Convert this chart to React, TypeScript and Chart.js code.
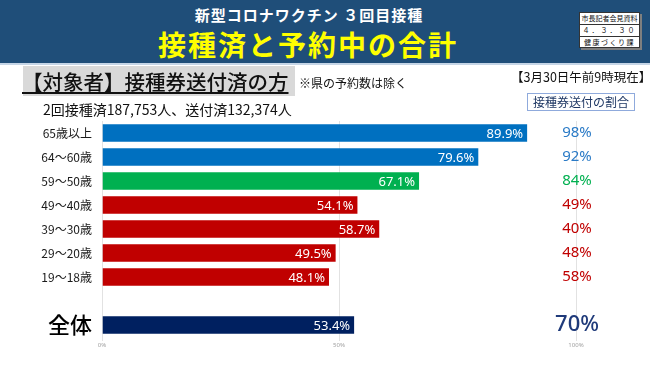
import React, { useEffect, useRef } from "react";
import { Chart, registerables } from "chart.js";

Chart.register(...registerables);

// ---- data ----
const categories = ["65歳以上", "64～60歳", "59～50歳", "49～40歳", "39～30歳", "29～20歳", "19～18歳", "", "全体"];
const bookedOrDone = [89.9, 79.6, 67.1, 54.1, 58.7, 49.5, 48.1, null, 53.4];
const ticketShare = [98, 92, 84, 49, 40, 48, 58, null, 70];
const xTickValues = [0, 50, 100];

// ---- styles ----
const barColors = ["#0070c0", "#0070c0", "#00b050", "#c00000", "#c00000", "#c00000", "#c00000", "#000000", "#002060"];
const shareColors = ["#2a7ac6", "#2a7ac6", "#00b050", "#c00000", "#c00000", "#c00000", "#c00000", "#000000", "#1f3a7a"];

const JP = '"Noto Sans CJK JP", "Noto Sans", sans-serif';
const NUM = '"Noto Sans", "Noto Sans CJK JP", sans-serif';

const labelPlugin = {
  id: "labels",
  afterDatasetsDraw(chart: any) {
    const ctx = chart.ctx;
    const meta = chart.getDatasetMeta(0);
    const xs = chart.scales.x;
    ctx.save();
    meta.data.forEach((bar: any, i: number) => {
      const v = bookedOrDone[i];
      if (v == null) return;
      ctx.font = `13px ${NUM}`;
      ctx.fillStyle = "#ffffff";
      ctx.textAlign = "right";
      ctx.textBaseline = "middle";
      ctx.fillText(`${v.toFixed(1)}%`, bar.x - 5, bar.y + 1);
      const s = ticketShare[i];
      if (s != null) {
        const big = categories[i] === "全体";
        ctx.font = big ? `500 22px ${NUM}` : `15px ${NUM}`;
        ctx.fillStyle = shareColors[i];
        ctx.textAlign = "center";
        ctx.fillText(`${s}%`, xs.getPixelForValue(100) + 1, bar.y);
      }
    });
    ctx.restore();
  },
};

export default function App() {
  const ref = useRef<HTMLCanvasElement | null>(null);
  useEffect(() => {
    if (!ref.current) return;
    const chart = new Chart(ref.current, {
      type: "bar",
      data: {
        labels: categories,
        datasets: [
          {
            data: bookedOrDone as any,
            backgroundColor: barColors,
            borderColor: "rgba(255,255,255,0.35)",
            borderWidth: 1,
            barPercentage: 0.82,
            categoryPercentage: 1,
          },
        ],
      },
      options: {
        indexAxis: "y",
        animation: false,
        responsive: false,
        devicePixelRatio: 1,
        layout: { padding: { top: 121, right: 74, bottom: 0, left: 0 } },
        plugins: { legend: { display: false }, tooltip: { enabled: false } },
        scales: {
          x: {
            min: 0,
            max: 100,
            afterBuildTicks: (scale: any) => {
              scale.ticks = xTickValues.map((v) => ({ value: v }));
            },
            afterFit: (scale: any) => {
              scale.height = 28;
            },
            border: { display: false },
            grid: { color: "#e2e2e2", tickLength: 4, drawTicks: true },
            ticks: {
              padding: 1,
              font: { size: 6, family: NUM },
              color: "#a0a0a0",
              maxRotation: 0,
              callback: (v: any) => `${v}%`,
            },
          },
          y: {
            afterFit: (scale: any) => {
              scale.width = 102;
            },
            border: { display: false },
            grid: { display: false, drawTicks: false },
            ticks: {
              autoSkip: false,
              padding: 10,
              color: (c: any) => (c.index === 8 ? "#000000" : "#1a1a1a"),
              font: (c: any) =>
                c.index === 8
                  ? { size: 22, weight: "500", family: JP }
                  : { size: 12, family: JP },
            },
          },
        },
      },
      plugins: [labelPlugin],
    });
    return () => chart.destroy();
  }, []);

  const abs = (s: React.CSSProperties): React.CSSProperties => ({ position: "absolute", whiteSpace: "nowrap", ...s });

  return (
    <div style={{ position: "fixed", left: 0, top: 0, width: 650, height: 365, background: "#ffffff", overflow: "hidden", fontFamily: JP }}>
      <div style={abs({ left: 0, top: 0, width: 650, height: 63, background: "#1f4e79", borderBottom: "2px solid #c5d5e6" })} />
      <div style={abs({ left: 0, top: 6, width: 618, textAlign: "center", color: "#ffffff", fontSize: 15, fontWeight: 700, lineHeight: "18px", letterSpacing: 1 })}>
        新型コロナワクチン ３回目接種
      </div>
      <div style={abs({ left: 0, top: 27, width: 616, textAlign: "center", color: "#ffff00", fontSize: 28, fontWeight: 700, lineHeight: "34px", letterSpacing: 2 })}>
        接種済と予約中の合計
      </div>
      <div style={abs({ left: 579, top: 12, width: 59, height: 34, background: "#ffffff", border: "1px solid #333", boxShadow: "2px 2px 0 #7f7f7f", fontSize: 7, lineHeight: "11px", color: "#111", textAlign: "center", overflow: "hidden" })}>
        <div style={{ borderBottom: "1px solid #333", height: 11 }}>市長記者会見資料</div>
        <div style={{ borderBottom: "1px solid #333", height: 11, letterSpacing: 2 }}>４．３．３０</div>
        <div style={{ height: 11, letterSpacing: 1.5 }}>健康づくり課</div>
      </div>
      <canvas ref={ref} width={650} height={365} style={abs({ left: 0, top: 0, width: 650, height: 365 })} />
      <div style={abs({ left: 23, top: 66, width: 272, height: 30, background: "#d9d9d9" })} />
      <div style={abs({ left: 22, top: 66, height: 30, lineHeight: "30px", fontSize: 20.5, fontWeight: 500, color: "#111", textDecoration: "underline", textUnderlineOffset: 2 })}>
        【対象者】接種券送付済の方
      </div>
      <div style={abs({ left: 299, top: 75, fontSize: 12, lineHeight: "16px", color: "#111" })}>※県の予約数は除く</div>
      <div style={abs({ left: 511, top: 69, fontSize: 12.5, lineHeight: "16px", color: "#111" })}>【3月30日午前9時現在】</div>
      <div style={abs({ left: 43, top: 101, fontSize: 14, lineHeight: "16px", color: "#111" })}>2回接種済187,753人、送付済132,374人</div>
      <div style={abs({ left: 527, top: 93, width: 106, height: 16, border: "1px solid #8faadc", fontSize: 12, lineHeight: "16px", color: "#1f3864", textAlign: "center" })}>
        接種券送付の割合
      </div>
    </div>
  );
}
